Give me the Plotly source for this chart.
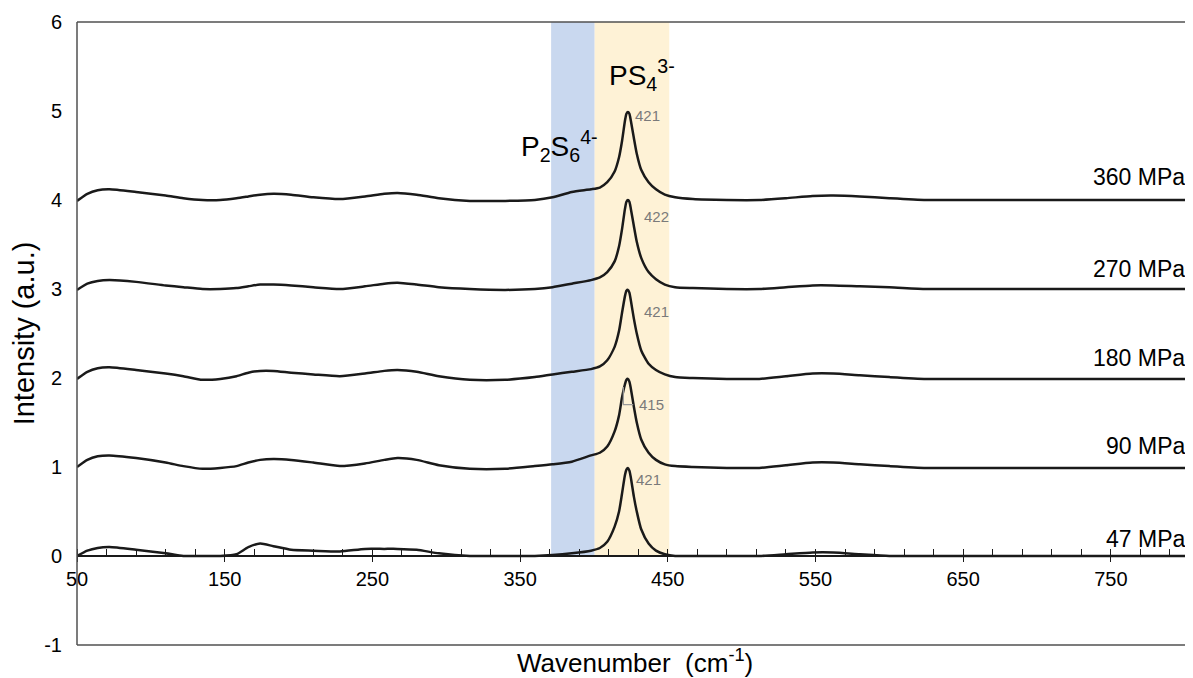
import plotly.graph_objects as go

# ---------------- data ----------------
wavenumber = [50, 57, 64, 72, 90, 110, 122, 135, 147, 158, 166, 174, 183, 195, 210,
              228, 245, 258, 267, 280, 295, 316, 340, 360, 372, 385, 398, 404, 409, 414,
              417, 419, 421, 422, 423, 424, 425, 427, 429, 432, 437, 442, 448, 455, 467,
              490, 512, 530, 548, 562, 580, 600, 625, 660, 700, 750, 805]

i_360 = [3.99, 4.07, 4.11, 4.12, 4.09, 4.05, 4.02, 4.00, 4.00, 4.02, 4.04, 4.06, 4.07, 4.06, 4.03,
         4.01, 4.04, 4.07, 4.08, 4.06, 4.02, 3.99, 3.99, 4.00, 4.03, 4.09, 4.12, 4.14, 4.20, 4.32,
         4.48, 4.66, 4.89, 4.97, 4.99, 4.97, 4.89, 4.70, 4.52, 4.34, 4.20, 4.12, 4.06, 4.03, 4.01,
         4.00, 4.00, 4.02, 4.045, 4.05, 4.04, 4.02, 4.00, 4.00, 4.00, 4.00, 4.00]

i_270 = [2.99, 3.06, 3.09, 3.10, 3.08, 3.04, 3.02, 3.00, 3.00, 3.01, 3.03, 3.05, 3.05, 3.04, 3.02,
         3.00, 3.03, 3.06, 3.07, 3.05, 3.02, 3.00, 2.99, 3.00, 3.02, 3.06, 3.10, 3.13, 3.19, 3.31,
         3.48, 3.67, 3.90, 3.98, 4.00, 3.98, 3.90, 3.71, 3.53, 3.35, 3.19, 3.11, 3.05, 3.02, 3.01,
         3.00, 3.00, 3.02, 3.04, 3.04, 3.03, 3.02, 3.00, 3.00, 3.00, 3.00, 3.00]

i_180 = [1.99, 2.07, 2.11, 2.12, 2.09, 2.05, 2.02, 1.98, 1.99, 2.02, 2.06, 2.08, 2.08, 2.06, 2.04,
         2.02, 2.05, 2.08, 2.09, 2.07, 2.02, 1.98, 1.98, 2.01, 2.04, 2.07, 2.10, 2.13, 2.20, 2.35,
         2.53, 2.73, 2.92, 2.98, 2.99, 2.96, 2.87, 2.67, 2.50, 2.31, 2.16, 2.09, 2.04, 2.01, 2.00,
         1.99, 1.99, 2.02, 2.05, 2.05, 2.03, 2.01, 1.99, 1.99, 1.99, 1.99, 1.99]

i_90 = [1.00, 1.08, 1.12, 1.13, 1.10, 1.05, 1.01, 0.98, 0.99, 1.01, 1.05, 1.08, 1.09, 1.08, 1.05,
        1.01, 1.04, 1.08, 1.10, 1.08, 1.02, 0.98, 0.98, 1.01, 1.03, 1.06, 1.13, 1.16, 1.23, 1.40,
        1.58, 1.78, 1.93, 1.98, 1.99, 1.96, 1.88, 1.68, 1.50, 1.31, 1.16, 1.08, 1.03, 1.01, 1.00,
        0.99, 0.99, 1.02, 1.05, 1.05, 1.03, 1.01, 0.99, 0.99, 0.99, 0.99, 0.99]

i_47 = [0.00, 0.06, 0.09, 0.10, 0.07, 0.03, 0.00, 0.00, 0.00, 0.02, 0.10, 0.14, 0.11, 0.07, 0.06,
        0.05, 0.08, 0.08, 0.08, 0.07, 0.03, 0.00, 0.00, 0.00, 0.01, 0.03, 0.06, 0.09, 0.16, 0.33,
        0.50, 0.70, 0.91, 0.97, 0.99, 0.96, 0.88, 0.67, 0.50, 0.30, 0.14, 0.06, 0.02, 0.00, 0.00,
        0.00, 0.00, 0.02, 0.04, 0.04, 0.02, 0.00, 0.00, 0.00, 0.00, 0.00, 0.00]

series = [("47 MPa", i_47), ("90 MPa", i_90), ("180 MPa", i_180),
          ("270 MPa", i_270), ("360 MPa", i_360)]
pressure_labels = ["47 MPa", "90 MPa", "180 MPa", "270 MPa", "360 MPa"]
label_levels = [0.19, 1.24, 2.23, 3.23, 4.26]

peak_labels = ["421", "415", "421", "422", "421"]
peak_label_x = [427, 429, 432.5, 432.5, 426.5]
peak_label_y = [0.86, 1.70, 2.75, 3.82, 4.95]

x_ticks = [50, 150, 250, 350, 450, 550, 650, 750]
y_ticks = [-1, 0, 1, 2, 3, 4, 5, 6]

band_p2s6 = [371, 400.5]
band_ps4 = [400.5, 451]

X_RANGE = [50, 805.6]
Y_RANGE = [-1, 6]

FONT = "Liberation Sans, Arial, sans-serif"

# the page adds an 8px body margin, so the figure is sized/margined to compensate
FIG_W, FIG_H = 1185, 670
M_L, M_R, M_T, M_B = 69, 0, 14, 33
PLOT_W = FIG_W - M_L - M_R
PLOT_H = FIG_H - M_T - M_B

fig = go.Figure()

for name, vals in series:
    fig.add_trace(go.Scatter(x=wavenumber, y=vals, mode="lines", name=name,
                             line=dict(color="#1a1a1a", width=2.5, shape="spline", smoothing=0.6),
                             showlegend=False, hoverinfo="skip"))

# overlay x-axis that draws the upward half of the major ticks
fig.add_trace(go.Scatter(x=[None], y=[None], xaxis="x2", showlegend=False))

shapes = [
    dict(type="rect", xref="x", yref="y", x0=band_p2s6[0], x1=band_p2s6[1], y0=0, y1=6,
         fillcolor="rgb(201,216,239)", line=dict(width=0), layer="below"),
    dict(type="rect", xref="x", yref="y", x0=band_ps4[0], x1=band_ps4[1], y0=0, y1=6,
         fillcolor="rgb(254,242,214)", line=dict(width=0), layer="below"),
    # frame: left, top, bottom
    dict(type="line", xref="paper", yref="paper", x0=0, x1=0, y0=0, y1=1,
         line=dict(color="#505050", width=1.5)),
    dict(type="line", xref="paper", yref="paper", x0=0, x1=1, y0=1, y1=1,
         line=dict(color="#505050", width=1.5)),
    dict(type="line", xref="paper", yref="paper", x0=0, x1=1, y0=0, y1=0,
         line=dict(color="#505050", width=1.5)),
    # leader line for the 415 label
    dict(type="path", xref="x", yref="y", path="M 419.9 1.90 L 419.9 1.70 L 426.6 1.70",
         line=dict(color="#9a9a9a", width=1.2)),
]

annotations = []
for lab, lv in zip(pressure_labels, label_levels):
    annotations.append(dict(x=0.995, xref="paper", y=lv, yref="y", text=lab, showarrow=False,
                            xanchor="right", yanchor="middle",
                            font=dict(family=FONT, size=23, color="#000")))
for lab, px, py in zip(peak_labels, peak_label_x, peak_label_y):
    annotations.append(dict(x=px, y=py, xref="x", yref="y", text=lab, showarrow=False,
                            xanchor="left", yanchor="middle",
                            font=dict(family=FONT, size=15, color="#7a7a7a")))
annotations.append(dict(x=349, y=4.61, xref="x", yref="y",
                        text="P<sub>2</sub>S<sub>6</sub><sup>4-</sup>", showarrow=False,
                        xanchor="left", yanchor="middle",
                        font=dict(family=FONT, size=28, color="#000")))
annotations.append(dict(x=408.8, y=5.41, xref="x", yref="y",
                        text="PS<sub>4</sub><sup>3-</sup>", showarrow=False,
                        xanchor="left", yanchor="middle",
                        font=dict(family=FONT, size=28, color="#000")))
annotations.append(dict(x=0.5, xref="paper", y=-17 / PLOT_H, yref="paper",
                        text="Wavenumber  (cm<sup>-1</sup>)", showarrow=False,
                        xanchor="center", yanchor="middle",
                        font=dict(family=FONT, size=26, color="#000")))

fig.update_layout(
    width=FIG_W, height=FIG_H,
    margin=dict(l=M_L, r=M_R, t=M_T, b=M_B, autoexpand=False),
    paper_bgcolor="white", plot_bgcolor="white",
    font=dict(family=FONT, color="#000"),
    shapes=shapes, annotations=annotations,
    xaxis=dict(range=X_RANGE, anchor="free", position=1 / 7,
               showline=True, linecolor="#1a1a1a", linewidth=1.5,
               tickmode="array", tickvals=x_ticks, ticktext=[str(v) for v in x_ticks],
               ticks="outside", ticklen=5, tickwidth=1.3, tickcolor="#1a1a1a",
               tickfont=dict(family=FONT, size=20, color="#000"),
               minor=dict(dtick=20, tick0=50, ticks="inside", ticklen=6, tickwidth=1.2,
                          tickcolor="#1a1a1a", showgrid=False),
               showgrid=False, zeroline=False, fixedrange=True),
    xaxis2=dict(range=X_RANGE, overlaying="x", anchor="free", position=1 / 7, side="bottom",
                tickmode="array", tickvals=x_ticks, ticks="inside", ticklen=6, tickwidth=1.3,
                tickcolor="#1a1a1a", showticklabels=False, showline=False, showgrid=False,
                zeroline=False, fixedrange=True),
    yaxis=dict(range=Y_RANGE, tickmode="array", tickvals=y_ticks,
               ticktext=[str(v) for v in y_ticks], ticks="", showline=False,
               showgrid=False, zeroline=False, ticklabelstandoff=14,
               tickfont=dict(family=FONT, size=20, color="#000"),
               title=dict(text="Intensity (a.u.)", standoff=11,
                          font=dict(family=FONT, size=29, color="#000")),
               fixedrange=True),
)

fig.write_html("out.html")
